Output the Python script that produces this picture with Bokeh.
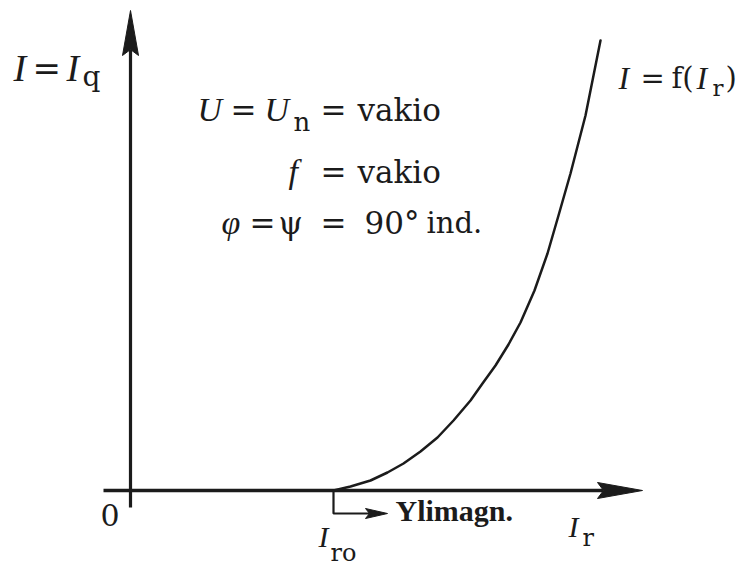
from bokeh.plotting import figure, ColumnDataSource
from bokeh.models import Range1d
from bokeh.core.properties import value
from bokeh.embed import file_html
from bokeh.resources import INLINE

# Characteristic I = f(I_r): armature current vs. field current (diagram units)
I_r_vals = [203, 220, 240, 257, 273, 290, 307, 323, 340, 352, 365, 378, 390,
            404, 417, 428, 440, 455, 470]
I_vals = [0, 4, 10, 18, 27, 39, 53, 70, 90, 107, 125, 146, 168,
          200, 237, 275, 317, 375, 450]

# Axis extents (diagram units, origin at the axes' crossing)
x_axis_start, x_axis_end = -27, 512
y_axis_start, y_axis_end = -17, 480
I_r0 = 203  # start of the over-excited region

INK = "#1b1b1b"
SERIF_IT = "Liberation Serif"   # italic symbols and bold note
SERIF_UP = "DejaVu Serif"       # upright text

p = figure(width=744, height=568, x_range=Range1d(-130, 614), y_range=Range1d(-78, 490),
           x_axis_type=None, y_axis_type=None, toolbar_location=None,
           output_backend="svg", min_border=0)
p.grid.visible = False
p.outline_line_color = None
p.background_fill_color = "white"
p.border_fill_color = "white"

head_len, head_half, notch = 45, 8, 6

# y axis with arrowhead
p.segment(x0=[0], y0=[y_axis_start], x1=[0], y1=[y_axis_end - head_len + notch],
          line_color=INK, line_width=3.2)
p.patch(x=[0, -head_half, 0, head_half],
        y=[y_axis_end, y_axis_end - head_len, y_axis_end - head_len + notch, y_axis_end - head_len],
        fill_color=INK, line_color=INK, line_width=1)

# x axis with arrowhead
p.segment(x0=[x_axis_start], y0=[0], x1=[x_axis_end - head_len + notch], y1=[0],
          line_color=INK, line_width=3.6)
p.patch(x=[x_axis_end, x_axis_end - head_len, x_axis_end - head_len + notch, x_axis_end - head_len],
        y=[0, head_half, 0, -head_half],
        fill_color=INK, line_color=INK, line_width=1)

# curve
p.line(I_r_vals, I_vals, line_color=INK, line_width=2.5, line_join="round", line_cap="round")

# bracket from I_r0 pointing to the over-excitation label
br_y = -23
br_end = 257
p.line([I_r0, I_r0, br_end - 18], [0, br_y, br_y], line_color=INK, line_width=2.2)
p.patch(x=[br_end, br_end - 22, br_end - 18, br_end - 22],
        y=[br_y, br_y + 5, br_y, br_y - 5], fill_color=INK, line_color=INK, line_width=1)

# text pieces: (text, x, baseline y, size, style)
pieces = [
    # I = I_q
    ("I", -117, 412, 38, "italic"),
    ("=", -98, 412, 34, "normal"),
    ("I", -64, 412, 38, "italic"),
    ("q", -48, 403, 28, "normal"),
    # U = U_n = vakio
    ("U", 67, 370, 34, "italic"),
    ("=", 100, 370, 31, "normal"),
    ("U", 134, 370, 34, "italic"),
    ("n", 163, 358, 26, "normal"),
    ("=", 190, 370, 31, "normal"),
    ("vakio", 227, 370, 31, "normal"),
    # f = vakio
    ("f", 158, 308, 34, "italic"),
    ("=", 190, 308, 31, "normal"),
    ("vakio", 227, 308, 31, "normal"),
    # phi = psi = 90 deg ind.
    ("φ", 91, 257, 34, "italic"),
    ("=", 119, 257, 31, "normal"),
    ("ψ", 148, 257, 31, "normal"),
    ("=", 190, 257, 31, "normal"),
    ("90°", 234, 257, 31, "normal"),
    ("ind.", 296, 257, 29, "normal"),
    # I = f(I_r)
    ("I", 488, 402, 32, "italic"),
    ("=", 510, 402, 29, "normal"),
    ("f(", 541, 402, 29, "normal"),
    ("I", 566, 402, 32, "italic"),
    ("r", 582, 392, 23, "normal"),
    (")", 595, 402, 29, "normal"),
    # axis labels
    ("0", -30, -35, 30, "normal"),
    ("I", 188, -57, 30, "italic"),
    ("ro", 200, -73, 24, "normal"),
    ("I", 438, -47, 30, "italic"),
    ("r", 452, -58, 24, "normal"),
    ("Ylimagn.", 265, -31, 30, "bold"),
]

baseline_shift = 11  # rendered alphabetic baseline sits lower than requested

for style in ("normal", "italic", "bold"):
    sel = [q for q in pieces if q[4] == style]
    src = ColumnDataSource(dict(
        t=[q[0] for q in sel],
        x=[q[1] for q in sel],
        y=[q[2] + baseline_shift for q in sel],
        size=["%dpx" % q[3] for q in sel],
    ))
    if style == "normal":
        kw = {"text_font": value(SERIF_UP)}
    else:
        kw = {"text_font": value(SERIF_IT), "text_font_style": style}
    p.text(x="x", y="y", text="t", source=src, text_font_size="size",
           text_color=INK, text_baseline="alphabetic", text_align="left", **kw)

open("out.html", "w").write(file_html(p, INLINE))
